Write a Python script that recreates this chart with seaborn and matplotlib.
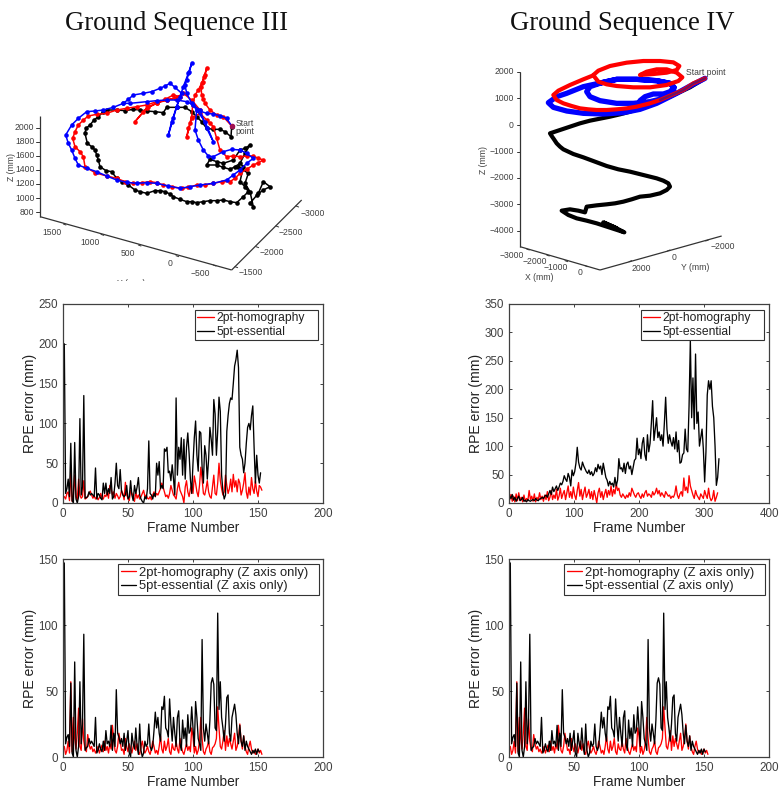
import numpy as np
import pandas as pd
import matplotlib
matplotlib.use('Agg')
import matplotlib.pyplot as plt
import seaborn as sns

sns.set_theme(style='ticks')
plt.rcParams['font.family'] = ['Liberation Sans', 'DejaVu Sans']
plt.rcParams['axes.unicode_minus'] = True

RED, BLACK, BLUE = '#ff0000', '#000000', '#0000ff'
GREY = '#404040'
W, H = 780, 792

# --- errors, sequence III (one value per frame) ---
seq3_5pt = [200,12,18,30,8,75,3,0,76,5,0,8,106,10,20,135,6,7,8,14,10,12,10,8,44,5,12,10,6,4,
            25,12,25,10,18,12,32,5,8,25,50,22,18,42,15,10,8,10,22,5,8,28,10,3,22,12,20,32,10,5,
            2,0,8,5,18,78,12,10,5,12,8,50,35,52,18,22,18,68,65,70,38,40,28,48,30,10,132,35,70,55,
            82,35,80,30,70,88,62,30,12,50,82,103,60,40,90,88,45,25,72,60,30,55,95,80,60,130,112,60,90,133,
            115,35,15,5,10,90,110,125,132,130,150,172,180,192,170,70,60,55,38,50,75,95,100,92,110,122,70,25,60,35,
            25,38]
seq3_2pt = [8,5,12,14,3,40,2,10,35,8,4,30,10,6,8,28,5,6,8,12,15,10,6,9,5,8,4,7,12,6,
            5,10,8,14,6,22,18,10,14,6,12,9,5,8,16,12,4,26,10,6,3,16,12,8,2,14,6,10,5,8,
            12,16,8,10,6,5,8,4,10,14,8,12,10,14,18,25,20,14,8,10,6,12,22,16,10,8,5,18,26,16,
            12,8,0,20,28,14,8,18,24,12,34,25,14,8,22,45,30,12,10,18,28,14,8,6,20,35,12,10,25,50,
            28,18,10,14,35,22,12,18,30,14,36,20,28,14,30,25,10,16,25,38,14,6,20,10,32,18,12,28,15,8,
            22,20,16]

# --- errors, sequence IV (one value every second frame) ---
seq4_5pt = [12,8,15,5,10,3,8,12,4,6,10,3,5,2,6,4,3,5,6,4,8,5,4,7,8,
            10,8,12,14,10,16,22,15,28,20,25,30,22,28,35,32,38,48,42,38,52,45,30,58,48,
            55,70,98,72,62,58,72,65,60,55,52,58,50,55,48,52,62,55,68,60,65,50,70,58,45,
            40,30,38,32,35,28,45,30,40,78,60,62,55,70,52,68,72,60,65,50,62,75,78,114,85,
            95,78,105,115,85,75,120,90,105,140,180,110,130,150,115,125,110,120,100,140,186,130,105,120,108,
            100,115,95,125,90,110,70,72,85,88,130,95,90,170,286,150,220,130,262,140,160,100,115,130,95,37,
            90,190,215,200,215,170,150,100,31,45,78]
seq4_2pt = [5,15,3,12,2,16,4,18,5,10,2,14,3,8,4,22,6,12,3,16,2,10,5,18,6,
            12,3,14,6,20,4,10,22,6,14,8,24,5,12,26,8,16,22,6,18,30,10,20,8,28,
            14,6,22,36,12,24,6,18,28,10,16,24,8,20,6,22,12,0,18,26,10,20,6,16,24,
            10,22,14,30,12,24,16,34,22,26,14,10,16,12,8,14,10,18,12,26,20,14,10,16,18,
            12,8,16,10,18,22,12,16,14,10,20,14,18,26,16,22,12,18,14,10,20,16,12,14,8,
            12,10,16,30,14,8,16,20,12,44,22,28,18,48,30,22,14,8,22,14,10,6,16,12,8,
            22,14,8,26,10,4,8,22,3,10,18]

# --- Z axis only errors (same curve drawn in both columns) ---
z_5pt = [147,10,15,17,8,56,3,0,72,5,0,8,57,10,25,93,5,7,8,14,10,12,10,8,30,3,5,10,6,4,
         12,5,20,10,12,8,24,5,18,8,51,18,15,10,14,8,18,5,12,20,3,0,18,10,6,22,8,2,25,5,
         0,3,12,8,10,25,8,5,8,20,34,22,30,18,12,38,36,46,22,20,15,44,25,12,30,18,8,30,35,10,
         5,28,14,22,8,32,18,20,38,22,8,42,30,14,10,5,89,22,12,25,18,10,28,56,60,55,22,20,109,36,
         57,30,22,12,25,45,47,18,12,30,35,40,32,18,10,24,12,8,16,5,12,8,6,4,2,5,3,6,2,6,4]
z_2pt = [8,2,5,12,3,57,4,30,14,6,18,37,8,5,29,12,6,4,17,10,6,8,4,6,3,5,8,3,6,9,
         4,12,5,8,3,10,6,24,14,5,3,8,18,12,5,6,2,14,8,4,10,6,3,8,12,5,10,4,2,8,
         12,6,3,5,8,4,2,6,12,8,3,5,2,8,16,6,3,12,5,8,14,4,2,10,6,5,12,6,3,14,
         8,4,2,6,10,5,8,4,22,16,3,8,2,5,12,30,14,4,2,6,8,12,4,2,7,8,10,14,38,22,
         8,6,12,20,5,16,8,14,10,6,12,18,5,8,14,25,12,6,16,8,4,2,8,12,6,3,5,2,4,6,3,5,2]

# --- projected 3D trajectories, sequence III, read in picture units ---
p3_black_x = [695,693,675,660,640,620,605,590,575,555,530,500,490,465,440,420,400,375,350,320,310,295,282,270,258,255,262,275,285,290,295,300,318,335,350,365,385,405,420,440,465,480,495,510,520,540,560,575,590,610,630,650,670,690,710,730,745,735,720,730,720,705,690,670,650,620,630,650,670,700,720,735,750,735,715,745,735,750,760,750,775,790,810,790,770]
p3_black_y = [230,260,245,238,238,235,215,200,185,172,172,172,188,185,183,180,178,182,180,180,185,200,210,225,235,250,280,290,300,315,330,350,362,365,385,395,405,420,425,430,422,422,425,432,440,448,455,455,458,455,452,452,450,455,458,440,425,410,395,350,340,350,358,352,345,345,328,335,340,330,300,295,285,310,350,370,400,425,470,460,430,395,410,420,435]
p3_red_x = [695,670,650,630,615,610,605,603,608,612,620,615,605,595,585,578,575,570,565,560,575,600,620,630,640,650,660,680,700,720,740,760,775,790,775,760,740,720,705,690,665,640,615,590,565,545,515,490,470,450,425,400,375,350,320,285,255,250,240,225,218,225,235,250,265,290,320,350,380,410,440,470,500,540,520,495,470,445,430,405,440,470,500,525,550,575,600]
p3_red_y = [228,200,195,180,160,148,135,110,95,80,55,75,100,120,135,165,200,218,235,262,205,190,210,220,230,265,300,320,318,320,318,318,325,330,338,345,358,370,385,395,395,400,405,405,412,415,410,405,398,395,398,400,395,385,378,368,350,320,305,290,265,245,225,210,198,193,190,180,175,170,165,155,150,140,135,148,160,170,185,215,175,160,150,145,130,150,180]
p3_blue_x = [695,680,660,640,620,590,575,560,555,560,568,575,565,550,540,530,515,505,520,530,545,525,510,495,480,455,430,400,385,370,340,310,285,260,235,215,197,205,215,225,235,260,290,320,350,380,410,440,470,505,540,570,600,640,680,700,720,740,760,740,720,695,670,640,625,610,595,585,590,615,640,620,600,580,560,530,500,470,440,390,370]
p3_blue_y = [228,205,197,192,190,180,160,130,105,90,65,40,70,110,140,170,215,255,205,170,130,112,100,108,115,125,130,135,148,160,172,180,183,185,205,225,255,280,300,325,345,355,365,378,390,397,400,398,400,408,415,410,405,400,390,375,360,340,325,310,300,298,305,320,318,300,270,240,180,215,275,235,180,165,155,150,150,152,155,160,160]
p3_z_ticks, p3_z_pos = ['2000','1800','1600','1400','1200','1000','800'], [233,275,317,360,402,445,487]

# --- projected 3D trajectories, sequence IV ---
p4_black_x = [765,720,660,600,570,540,510,480,450,420,390,360,330,315,300,305,312,320,330,340,370,400,435,470,505,540,580,620,640,655,660,650,630,600,570,545,520,495,470,440,410,405,385,360,335,355,380,410,440,480,523,490,460,500]
p4_black_y = [85,112,140,165,175,185,193,200,206,212,220,230,240,245,250,258,268,280,290,298,312,322,335,348,358,365,375,385,392,400,410,420,430,437,440,448,455,460,463,466,470,487,482,478,482,495,505,512,520,533,547,530,517,535]
p4_red_x = [765,730,700,660,630,600,560,530,500,470,440,415,390,365,340,320,310,325,360,400,430,445,470,500,550,600,650,685,697,680,650,620,590,570,610,650,680,688,670,630,580,530,480,445,430]
p4_red_y = [85,100,120,137,150,160,170,175,178,180,180,178,175,168,160,150,135,122,105,88,76,95,103,108,112,112,105,93,82,68,58,58,65,75,72,68,60,48,37,33,33,38,48,62,75]
p4_blue_x = [765,720,680,620,570,520,460,400,350,310,295,320,350,400,455,420,410,420,450,500,550,600,640,670,672,660,620,560,500,455,500,560,620,660,672,660,640,610,585,570]
p4_blue_y = [85,108,130,160,178,188,192,190,183,172,158,140,130,110,98,110,125,140,152,160,160,155,145,125,112,100,92,88,88,98,88,88,92,100,112,125,132,132,140,152]
p4_z_ticks, p4_z_pos = ['2000','1000','0','\u22121000','\u22122000','\u22123000','\u22124000'], [65,145,225,305,384,463,542]


def px_axes(fig, x0, y0, w, h):
    return fig.add_axes([x0 / W, 1 - (y0 + h) / H, w / W, h / H])


def path_df(x, y):
    return pd.DataFrame({'x': x, 'y': y})


def draw_box(ax, edges, color='#333333'):
    for (xa, ya), (xb, yb) in edges:
        ax.plot([xa, xb], [ya, yb], color=color, lw=0.9, solid_capstyle='butt')


def scene(fig, x0, y0, w, h):
    ax = px_axes(fig, x0, y0, w, h)
    ax.axis('off')
    ax.patch.set_alpha(0)
    return ax


def small(ax, x, y, s, **kw):
    ax.text(x, y, s, fontsize=6.2, color=GREY, ha=kw.pop('ha', 'center'), va='center', clip_on=True, **kw)


def traj(ax, x, y, color, lw, ms):
    sns.lineplot(data=path_df(x, y), x='x', y='y', sort=False, estimator=None, color=color,
                 lw=lw, marker='o' if ms else None, markersize=ms, markeredgewidth=0, ax=ax)
    ax.set_xlabel('')
    ax.set_ylabel('')


def series(ax, x2, y2, x5, y5, labels, xmax, ymax, xticks, yticks, box, fsize, hlen):
    sns.lineplot(x=x2, y=y2, color=RED, lw=0.95, label=labels[0], sort=False, estimator=None, ax=ax)
    sns.lineplot(x=x5, y=y5, color=BLACK, lw=0.95, label=labels[1], sort=False, estimator=None, ax=ax)
    ax.set_xlim(0, xmax)
    ax.set_ylim(0, ymax)
    ax.set_xticks(xticks)
    ax.set_yticks(yticks)
    ax.tick_params(direction='in', length=2.5, width=0.7, top=True, right=True, labelsize=8.4,
                   colors=GREY, pad=3.5)
    for s in ax.spines.values():
        s.set_linewidth(0.9)
        s.set_color(GREY)
    ax.set_xlabel('Frame Number', fontsize=9.9, color='#222222', labelpad=0.5)
    ax.set_ylabel('RPE error (mm)', fontsize=10.1, color='#222222', labelpad=1)
    leg = ax.legend(loc='upper left', bbox_to_anchor=box, mode='expand', borderaxespad=0, fontsize=fsize,
                    frameon=True, fancybox=False, framealpha=1, edgecolor='#333333',
                    handlelength=hlen, handletextpad=0.2, labelspacing=0.12, borderpad=0.2)
    leg.get_frame().set_linewidth(0.8)
    for t in leg.get_texts():
        t.set_color('#222222')


fig = plt.figure(figsize=(W / 100, H / 100), dpi=100, facecolor='white')

# titles
fig.text(176.5 / W, 1 - 24 / H, 'Ground Sequence III', family='Liberation Serif', fontsize=19.2,
         color='#111111', ha='center', va='center')
fig.text(622.5 / W, 1 - 24 / H, 'Ground Sequence IV', family='Liberation Serif', fontsize=19.2,
         color='#111111', ha='center', va='center')

# sequence III trajectory
a = scene(fig, 0, 50, 340, 231)
draw_box(a, [((120, 198), (120, 500)), ((120, 500), (695, 660)), ((695, 660), (905, 450))])
for v, s in zip(p3_z_pos, p3_z_ticks):
    a.plot([107, 120], [v, v], color='#333333', lw=0.7)
    small(a, 103, v, s, ha='right')
small(a, 35, 350, 'Z (mm)', rotation=90)
for tx, ty, bx, by, s in [(157, 547, 190, 522, '1500'), (270, 577, 303, 553, '1000'),
                          (385, 610, 415, 585, '500'), (510, 640, 528, 617, '0'),
                          (600, 670, 640, 645, '\u2212500')]:
    a.plot([bx, bx + 8], [by, by + 3], color='#333333', lw=0.7)
    small(a, tx, ty, s)
for tx, ty, bx, by, s in [(752, 667, 705, 650, '\u22121500'), (815, 607, 768, 590, '\u22122000'),
                          (872, 547, 828, 528, '\u22122500'), (938, 490, 888, 468, '\u22123000')]:
    a.plot([bx, bx + 8], [by, by + 3], color='#333333', lw=0.7)
    small(a, tx, ty, s)
small(a, 395, 700, 'Y (mm)')
traj(a, p3_black_x, p3_black_y, BLACK, 1.1, 3.3)
traj(a, p3_red_x, p3_red_y, RED, 1.1, 3.3)
traj(a, p3_blue_x, p3_blue_y, BLUE, 1.1, 3.3)
a.scatter([695], [229], s=9, color='#a01050', zorder=5)
small(a, 707, 220, 'Start', ha='left')
small(a, 705, 245, 'point', ha='left')
a.set_xlim(0, 1020)
a.set_ylim(693, 0)

# sequence IV trajectory
b = scene(fig, 450, 50, 300, 240)
draw_box(b, [((210, 65), (210, 590)), ((210, 590), (450, 660)), ((450, 660), (815, 558))])
for v, s in zip(p4_z_pos, p4_z_ticks):
    b.plot([200, 210], [v, v], color='#333333', lw=0.7)
    small(b, 192, v, s, ha='right')
small(b, 102, 330, 'Z (mm)', rotation=90)
for tx, ty, bx, by, s in [(186, 616, 230, 597, '\u22123000'), (254, 635, 290, 615, '\u22122000'),
                          (318, 652, 345, 632, '\u22121000'), (390, 668, 405, 647, '0')]:
    b.plot([bx, bx + 8], [by, by + 3], color='#333333', lw=0.7)
    small(b, tx, ty, s)
for tx, ty, bx, by, s in [(574, 655, 545, 632, '2000'), (671, 622, 660, 600, '0'),
                          (818, 589, 775, 570, '\u22122000')]:
    b.plot([bx, bx - 8], [by, by + 3], color='#333333', lw=0.7)
    small(b, tx, ty, s)
small(b, 267, 682, 'X (mm)')
small(b, 737, 652, 'Y (mm)')
traj(b, p4_black_x, p4_black_y, BLACK, 3.0, 0)
traj(b, p4_blue_x, p4_blue_y, BLUE, 3.8, 0)
traj(b, p4_red_x, p4_red_y, RED, 3.0, 0)
traj(b, p4_red_x[:5], p4_red_y[:5], '#701060', 1.8, 0)
small(b, 708, 67, 'Start point', ha='left')
b.set_xlim(0, 900)
b.set_ylim(720, 0)

# error curves
labels_all = ['2pt-homography', '5pt-essential']
labels_z = ['2pt-homography (Z axis only)', '5pt-essential (Z axis only)']
frames3 = np.arange(1, len(seq3_5pt) + 1)
frames3r = np.arange(1, len(seq3_2pt) + 1)
frames4 = np.arange(len(seq4_5pt)) * 2 + 1
frames4r = np.arange(len(seq4_2pt)) * 2 + 1
framesz = np.arange(1, len(z_5pt) + 1)
framesz_r = np.arange(1, len(z_2pt) + 1)

top_box = (131 / 259, 0.8, 123 / 259, 0.17)
bot_box = (55 / 259, 0.8, 200 / 259, 0.175)

c = px_axes(fig, 63, 304, 260, 199)
series(c, frames3r, seq3_2pt, frames3, seq3_5pt, labels_all, 200, 250, [0, 50, 100, 150, 200],
       [0, 50, 100, 150, 200, 250], top_box, 8.7, 1.45)
d = px_axes(fig, 509, 304, 260, 199)
series(d, frames4r, seq4_2pt, frames4, seq4_5pt, labels_all, 400, 350, [0, 100, 200, 300, 400],
       [0, 50, 100, 150, 200, 250, 300, 350], top_box, 8.7, 1.45)
e = px_axes(fig, 63, 559, 260, 198)
series(e, framesz_r, z_2pt, framesz, z_5pt, labels_z, 200, 150, [0, 50, 100, 150, 200],
       [0, 50, 100, 150], bot_box, 9.4, 1.2)
f = px_axes(fig, 509, 559, 260, 198)
series(f, framesz_r, z_2pt, framesz, z_5pt, labels_z, 200, 150, [0, 50, 100, 150, 200],
       [0, 50, 100, 150], bot_box, 9.4, 1.2)

fig.savefig('out.png', dpi=100, facecolor='white')
